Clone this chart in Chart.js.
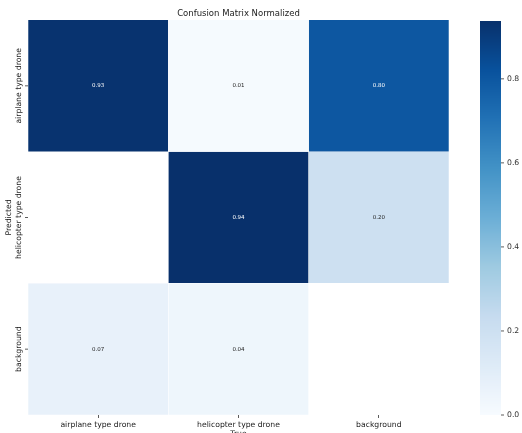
<!DOCTYPE html>
<html>
<head>
<meta charset="utf-8">
<script src="https://cdn.jsdelivr.net/npm/chart.js@4/dist/chart.umd.min.js"></script>
<style>
    html, body { margin: 0; padding: 0; background: #fff; }
    #wrap { position: relative; width: 522px; height: 433px; }
</style>
</head>
<body>
<div id="wrap"><canvas id="chart_canvas"></canvas></div>
<script>
/* normalized confusion matrix, Blues heatmap with colour bar */

const true_labels = ['airplane type drone', 'helicopter type drone', 'background'];
const predicted_labels = ['airplane type drone', 'helicopter type drone', 'background'];

// one row per predicted class, one column per true class (null = blank cell)
const row_airplane = [0.93, 0.01, 0.80];
const row_helicopter = [null, 0.94, 0.20];
const row_background = [0.07, 0.04, null];

const cbar_ticks = [0.0, 0.2, 0.4, 0.6, 0.8];

const rows = [row_airplane, row_helicopter, row_background];
const vmin = 0.0;
const vmax = Math.max(...rows.flat().filter(v => v !== null));

const FONT = "'DejaVu Sans', sans-serif";

// matplotlib 'Blues'
const blues = ['#f7fbff', '#deebf7', '#c6dbef', '#9ecae1', '#6baed6',
               '#4292c6', '#2171b5', '#08519c', '#08306b'];

function hex_rgb ( h )
{
    return [parseInt(h.substr(1, 2), 16), parseInt(h.substr(3, 2), 16), parseInt(h.substr(5, 2), 16)];
}

function blues_rgb ( v )
{
    let t = Math.min(1, Math.max(0, (v - vmin) / (vmax - vmin))) * (blues.length - 1);
    let ii = Math.min(blues.length - 2, Math.floor(t));
    let f = t - ii;
    let a = hex_rgb(blues[ii]);
    let b = hex_rgb(blues[ii + 1]);
    return [0, 1, 2].map(k => Math.round(a[k] + f * (b[k] - a[k])));
}

function blues_css ( v )
{
    if ( v === null ) return '#ffffff';
    let c = blues_rgb(v);
    return `rgb(${c[0]}, ${c[1]}, ${c[2]})`;
}

// seaborn style: dark text on light cells, white on dark
function text_colour ( v )
{
    let lin = blues_rgb(v).map(c =>
    {
        c /= 255;
        return c <= 0.03928 ? c / 12.92 : Math.pow((c + 0.055) / 1.055, 2.4);
    });
    let lum = 0.2126 * lin[0] + 0.7152 * lin[1] + 0.0722 * lin[2];
    return lum > 0.408 ? '#262626' : '#ffffff';
}

const heatmap_extras =
{
    id: 'heatmap_extras',
    afterDatasetsDraw: function ( chart )
    {
        const ctx = chart.ctx;
        const area = chart.chartArea;
        const yscale = chart.scales.y;
        const cb = chart.scales.cb;

        ctx.save();

        // cell annotations
        ctx.font = `5.5px ${FONT}`;
        ctx.textAlign = 'center';
        ctx.textBaseline = 'middle';
        chart.data.datasets.forEach((ds, di) =>
        {
            chart.getDatasetMeta(di).data.forEach((bar, ci) =>
            {
                let v = ds.values[ci];
                if ( v === null ) return;
                let p = bar.getCenterPoint();
                ctx.fillStyle = text_colour(v);
                ctx.fillText(v.toFixed(2), p.x, p.y);
            });
        });

        // y tick marks and rotated labels
        ctx.font = `7.7px ${FONT}`;
        ctx.strokeStyle = '#333';
        ctx.lineWidth = 0.8;
        predicted_labels.forEach((lab, ii) =>
        {
            let y = yscale.getPixelForValue(ii + 0.5);
            ctx.beginPath();
            ctx.moveTo(area.left - 3, y);
            ctx.lineTo(area.left, y);
            ctx.stroke();

            ctx.save();
            ctx.translate(area.left - 9, y);
            ctx.rotate(-Math.PI / 2);
            ctx.fillStyle = '#222';
            ctx.fillText(lab, 0, 0);
            ctx.restore();
        });

        // axis titles
        ctx.save();
        ctx.translate(area.left - 19, (area.top + area.bottom) / 2);
        ctx.rotate(-Math.PI / 2);
        ctx.fillStyle = '#222';
        ctx.font = `7.7px ${FONT}`;
        ctx.fillText('Predicted', 0, 0);
        ctx.restore();

        ctx.fillStyle = '#222';
        ctx.textBaseline = 'top';
        ctx.fillText('True', (area.left + area.right) / 2, 430.5);

        // title
        ctx.font = `8.5px ${FONT}`;
        ctx.textBaseline = 'middle';
        ctx.fillText('Confusion Matrix Normalized', (area.left + area.right) / 2, 14);

        // colour bar
        const cb_left = area.right + 31;
        const cb_width = 21;
        const top = Math.round(cb.getPixelForValue(vmax)) + 1;
        const bottom = Math.round(cb.getPixelForValue(vmin));
        for ( let y = top; y < bottom; ++y )
        {
            ctx.fillStyle = blues_css(cb.getValueForPixel(y + 0.5));
            ctx.fillRect(cb_left, y, cb_width, 1);
        }

        ctx.font = `7.7px ${FONT}`;
        ctx.textAlign = 'left';
        ctx.fillStyle = '#333';
        for ( let t of cbar_ticks )
        {
            let y = cb.getPixelForValue(t);
            ctx.beginPath();
            ctx.moveTo(cb_left + cb_width, y);
            ctx.lineTo(cb_left + cb_width + 3, y);
            ctx.stroke();
            ctx.fillText(t.toFixed(1), cb_left + cb_width + 6, y);
        }

        ctx.restore();
    }
};

// one stacked dataset per predicted row, every cell one unit tall
const datasets = rows.map((row, ii) => (
{
    label: predicted_labels[ii],
    data: row.map(() => 1),
    values: row,
    backgroundColor: row.map(v => blues_css(v)),
    borderColor: 'rgba(255, 255, 255, 0.35)',
    borderWidth: 0.6,
    barPercentage: 1,
    categoryPercentage: 1,
    yAxisID: 'y'
}));

const config =
{
    type: 'bar',
    data: { labels: true_labels, datasets: datasets },
    options:
    {
        responsive: false,
        animation: false,
        events: [],
        layout: { padding: { left: 28, top: 20, right: 73, bottom: 0 } },
        scales:
        {
            x:
            {
                stacked: true,
                grid: { offset: false, drawOnChartArea: false, tickLength: 3, tickColor: '#333', tickWidth: 0.8 },
                border: { display: false },
                ticks: { color: '#222', padding: 2, maxRotation: 0, font: { family: FONT, size: 7.7 } },
                afterFit: function ( scale ) { scale.height = 18; }
            },
            y:
            {
                stacked: true,
                reverse: true,
                min: 0,
                max: 3,
                display: false
            },
            cb:
            {
                type: 'linear',
                position: 'right',
                min: vmin,
                max: vmax,
                display: false
            }
        },
        plugins:
        {
            legend: { display: false },
            title: { display: false },
            tooltip: { enabled: false }
        }
    },
    plugins: [heatmap_extras]
};

const canvas = document.getElementById('chart_canvas');
canvas.width = 522;
canvas.height = 433;
const chart = new Chart(canvas, config);
</script>
</body>
</html>
